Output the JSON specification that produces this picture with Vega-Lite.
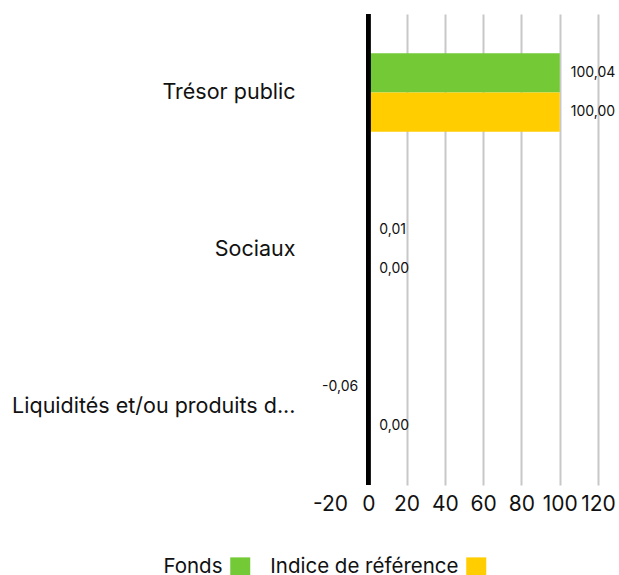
{
  "$schema": "https://vega.github.io/schema/vega-lite/v6.json",
  "width": 268,
  "height": 471,
  "padding": {"left": 11, "top": 12, "right": 0, "bottom": 0},
  "background": "white",
  "config": {
    "view": {"stroke": null},
    "font": "Inter",
    "axisX": {"labelOverlap": false, "labelFlush": false, "tickCount": 20},
    "locale": {"number": {"decimal": ",", "thousands": " ", "grouping": [3], "currency": ["", " €"], "minus": "-"}}
  },
  "data": {"values": [
    {"cat": "Trésor public", "series": "Fonds", "value": 100.04},
    {"cat": "Trésor public", "series": "Indice de référence", "value": 100.00},
    {"cat": "Sociaux", "series": "Fonds", "value": 0.01},
    {"cat": "Sociaux", "series": "Indice de référence", "value": 0.00},
    {"cat": "Liquidités et/ou produits d...", "series": "Fonds", "value": -0.06},
    {"cat": "Liquidités et/ou produits d...", "series": "Indice de référence", "value": 0.00}
  ]},
  "layer": [
    {
      "mark": {"type": "bar"},
      "encoding": {
        "y": {"field": "cat", "type": "nominal", "sort": null,
          "scale": {"paddingInner": 0.5, "paddingOuter": 0.25},
          "axis": {"title": null, "domain": false, "ticks": false, "labelFontSize": 21.5, "labelPadding": 35, "labelColor": "#111", "labelLimit": 400}},
        "yOffset": {"field": "series", "type": "nominal", "sort": ["Fonds", "Indice de référence"], "scale": {"paddingInner": 0, "paddingOuter": 0}},
        "x": {"field": "value", "type": "quantitative",
          "scale": {"domain": [-20, 120], "nice": false, "zero": false},
          "axis": {"title": null, "values": [-20, 0, 20, 40, 60, 80, 100, 120], "tickCount": 20, "domain": false, "ticks": false,
            "grid": true, "gridColor": "#c8c8c8", "gridWidth": 2,
            "gridOpacity": {"condition": {"test": "datum.value <= 0", "value": 0}, "value": 1},
            "labelOverlap": false, "labelFlush": false,
            "labelFontSize": 21, "labelPadding": 8, "labelColor": "#111", "format": "d"}},
        "color": {"field": "series", "type": "nominal",
          "scale": {"domain": ["Fonds", "Indice de référence"], "range": ["#74C936", "#FFCD00"]},
          "legend": {"title": null, "orient": "none", "direction": "horizontal", "legendX": -100, "legendY": 543,
            "symbolType": "square", "symbolSize": 400, "symbolStrokeWidth": 0, "symbolOpacity": 1,
            "labelFontSize": 20.5, "labelColor": "#111", "labelAlign": "right", "labelOffset": -28, "labelLimit": 400, "columnPadding": 19}}
      }
    },
    {
      "transform": [{"filter": "datum.value >= 0"}],
      "mark": {"type": "text", "align": "left", "dx": 11, "fontSize": 14, "color": "#111"},
      "encoding": {
        "y": {"field": "cat", "type": "nominal", "sort": null},
        "yOffset": {"field": "series", "type": "nominal", "sort": ["Fonds", "Indice de référence"]},
        "x": {"field": "value", "type": "quantitative"},
        "text": {"field": "value", "type": "quantitative", "format": ".2f"}
      }
    },
    {
      "transform": [{"filter": "datum.value < 0"}],
      "mark": {"type": "text", "align": "right", "dx": -10, "fontSize": 14, "color": "#111"},
      "encoding": {
        "y": {"field": "cat", "type": "nominal", "sort": null},
        "yOffset": {"field": "series", "type": "nominal", "sort": ["Fonds", "Indice de référence"]},
        "x": {"field": "value", "type": "quantitative"},
        "text": {"field": "value", "type": "quantitative", "format": ".2f"}
      }
    },
    {
      "mark": {"type": "rule", "color": "black", "strokeWidth": 4},
      "encoding": {"x": {"datum": 0}, "y": {"value": 0}, "y2": {"value": 471}}
    }
  ]
}
